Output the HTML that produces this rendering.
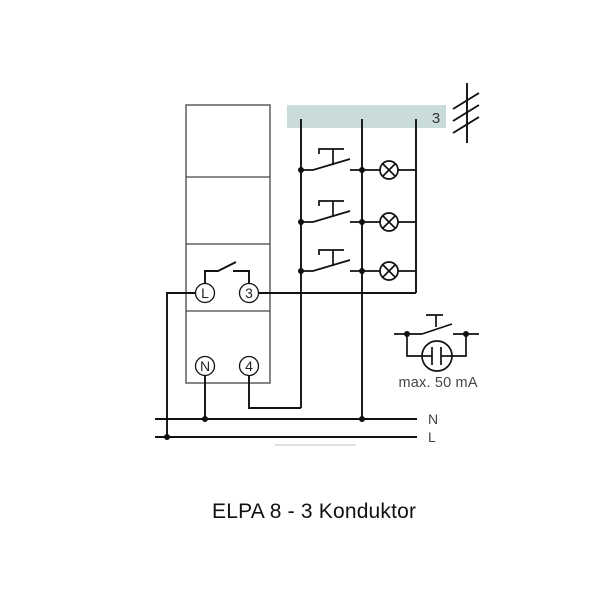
<!DOCTYPE html>
<html><head><meta charset="utf-8"><style>html,body{margin:0;padding:0;background:#fff}svg{display:block}</style></head>
<body>
<svg width="600" height="600" viewBox="0 0 600 600" xmlns="http://www.w3.org/2000/svg">
<rect x="287" y="105" width="159" height="23" fill="#c9dcd9"/>
<text x="436" y="123" font-family="Liberation Sans, sans-serif" font-size="15" fill="#333" text-anchor="middle">3</text>
<g stroke="#444" stroke-width="1.3" fill="none">
<rect x="186" y="105" width="84" height="278" fill="none"/>
<line x1="186" y1="177" x2="270" y2="177"/>
<line x1="186" y1="244" x2="270" y2="244"/>
<line x1="186" y1="311" x2="270" y2="311"/>
</g>
<g stroke="#111" stroke-width="1.9" fill="none">
<line x1="467" y1="83" x2="467" y2="143"/>
<line x1="453" y1="109" x2="479" y2="93"/>
<line x1="453" y1="121" x2="479" y2="105"/>
<line x1="453" y1="133" x2="479" y2="117"/>
<line x1="301" y1="119" x2="301" y2="408"/>
<line x1="362" y1="119" x2="362" y2="419"/>
<line x1="416" y1="119" x2="416" y2="293"/>
<polyline points="249,373 249,408 301,408"/>
<line x1="258" y1="293" x2="416" y2="293"/>
<polyline points="196,293 167,293 167,437"/>
<line x1="205" y1="375" x2="205" y2="419"/>
<line x1="155" y1="419" x2="417" y2="419"/>
<line x1="155" y1="437" x2="417" y2="437"/>
<polyline points="205,284 205,271 218,271 236,262"/>
<polyline points="233,271 249,271 249,284"/>
</g>
<g stroke="#111" stroke-width="1.7" fill="none">
<g id="row">
<polyline points="301,170 313,170 350,159"/>
<line x1="350" y1="170" x2="380" y2="170"/>
<line x1="398" y1="170" x2="416" y2="170"/>
<polyline points="319,154 319,149 344,149"/>
<line x1="333" y1="149" x2="333" y2="165"/>
<circle cx="389" cy="170" r="9" fill="#fff"/>
<line x1="383" y1="164" x2="395" y2="176"/>
<line x1="395" y1="164" x2="383" y2="176"/>
</g>
<use href="#row" y="52"/>
<use href="#row" y="101"/>
<line x1="394" y1="334" x2="422" y2="334"/>
<line x1="422" y1="334" x2="452" y2="324"/>
<line x1="453" y1="334" x2="479" y2="334"/>
<line x1="426" y1="315" x2="443" y2="315"/>
<line x1="436" y1="315" x2="436" y2="327"/>
<polyline points="407,334 407,356 422,356"/>
<polyline points="466,334 466,356 452,356"/>
<circle cx="437" cy="356" r="15"/>
<line x1="432" y1="347" x2="432" y2="365"/>
<line x1="441" y1="347" x2="441" y2="365"/>
<line x1="422" y1="356" x2="432" y2="356"/>
<line x1="441" y1="356" x2="452" y2="356"/>
</g>
<g stroke="#111" stroke-width="1.3" fill="#fff">
<circle cx="205" cy="293" r="9.5"/><circle cx="249" cy="293" r="9.5"/>
<circle cx="205" cy="366" r="9.5"/><circle cx="249" cy="366" r="9.5"/>
</g>
<g font-family="Liberation Sans, sans-serif" font-size="14" fill="#222" text-anchor="middle">
<text x="205" y="298">L</text><text x="249" y="298">3</text>
<text x="205" y="371">N</text><text x="249" y="371">4</text>
</g>
<g fill="#111">
<circle cx="301" cy="170" r="3"/><circle cx="362" cy="170" r="3"/>
<circle cx="301" cy="222" r="3"/><circle cx="362" cy="222" r="3"/>
<circle cx="301" cy="271" r="3"/><circle cx="362" cy="271" r="3"/>
<circle cx="205" cy="419" r="3"/><circle cx="362" cy="419" r="3"/>
<circle cx="167" cy="437" r="3"/>
<circle cx="407" cy="334" r="3"/><circle cx="466" cy="334" r="3"/>
</g>
<line x1="275" y1="445" x2="356" y2="445" stroke="#ccc" stroke-width="1.2"/>
<g font-family="Liberation Sans, sans-serif" fill="#444">
<text x="428" y="424" font-size="14">N</text>
<text x="428" y="442" font-size="14">L</text>
<text x="438" y="387" font-size="14.5" text-anchor="middle" textLength="79">max. 50 mA</text>
</g>
<text x="212" y="518" font-family="Liberation Sans, sans-serif" font-size="21" fill="#111" textLength="204">ELPA 8 - 3 Konduktor</text>
</svg>
</body></html>
